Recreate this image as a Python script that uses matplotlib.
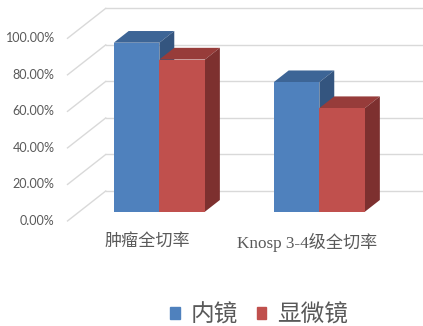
import matplotlib
matplotlib.use('Agg')
import matplotlib.pyplot as plt
from matplotlib.patches import Patch

# 数据
categories = ['肿瘤全切率', 'Knosp 3-4级全切率']
series_names = ['内镜', '显微镜']
endoscope = [0.925, 0.709]
microscope = [0.833, 0.567]
yticks = [0.0, 0.2, 0.4, 0.6, 0.8, 1.0]
ytick_labels = ['0.00%', '20.00%', '40.00%', '60.00%', '80.00%', '100.00%']

# 颜色 (正面, 顶面, 侧面)
blue = ('#4F81BD', '#3D6596', '#34557F')
red = ('#C0504D', '#973C3A', '#7D302F')
grid_color = '#D9D9D9'
text_color = '#595959'

# 斜投影: 整个深度对应的偏移 (x 单位, y 单位)
DX, DY = 0.239, 0.164
d0, dd = 0.31, 0.39     # 柱子正面所在深度, 柱子厚度
bw = 0.285              # 柱宽


def proj(x, y, d):
    return x + d * DX, y + d * DY


def draw_box(ax, x0, x1, h, colors):
    front, top, side = colors
    a, b = d0, d0 + dd
    # 顶面
    pts = [proj(x0, h, a), proj(x1, h, a), proj(x1, h, b), proj(x0, h, b)]
    ax.fill(*zip(*pts), color=top, lw=0, zorder=3)
    # 右侧面
    pts = [proj(x1, 0, a), proj(x1, 0, b), proj(x1, h, b), proj(x1, h, a)]
    ax.fill(*zip(*pts), color=side, lw=0, zorder=3)
    # 正面
    pts = [proj(x0, 0, a), proj(x1, 0, a), proj(x1, h, a), proj(x0, h, a)]
    ax.fill(*zip(*pts), color=front, lw=0, zorder=3)


fig = plt.figure(figsize=(4.23, 3.26), dpi=100)
ax = fig.add_axes([0, 0, 1, 1])
ax.set_xlim(-0.922, 1.722)
ax.set_ylim(-0.575, 1.2096)
ax.axis('off')

# 网格线: 背墙水平线 + 左侧斜线
for v, lab in zip(yticks, ytick_labels):
    bx, by = proj(-0.5, v, 1)
    ax.plot([bx, 1.722], [by, by], color=grid_color, lw=1, zorder=1)
    ax.plot([-0.5, bx], [v, by], color=grid_color, lw=1, zorder=1)
    ax.text(-0.58, v, lab, ha='right', va='center', fontsize=9,
            color=text_color, family='Lato')

# 柱子
for i in range(len(categories)):
    draw_box(ax, i - bw, i, endoscope[i], blue)
    draw_box(ax, i, i + bw, microscope[i], red)

# 类别标签
for i, c in enumerate(categories):
    ax.text(i, -0.115, c, ha='center', va='center', fontsize=12.3,
            color=text_color, family=['Liberation Serif', 'Noto Sans CJK SC'])

# 图例
handles = [Patch(color=blue[0]), Patch(color=red[0])]
leg = ax.legend(handles, series_names, loc='center',
                bbox_to_anchor=(0.612, 0.034), ncol=2, frameon=False,
                handlelength=0.42, handleheight=0.42, handletextpad=0.45,
                columnspacing=0.8, borderpad=0,
                prop={'family': 'Noto Sans CJK SC', 'size': 17})
for t in leg.get_texts():
    t.set_color(text_color)

fig.savefig('out.png', dpi=100)
